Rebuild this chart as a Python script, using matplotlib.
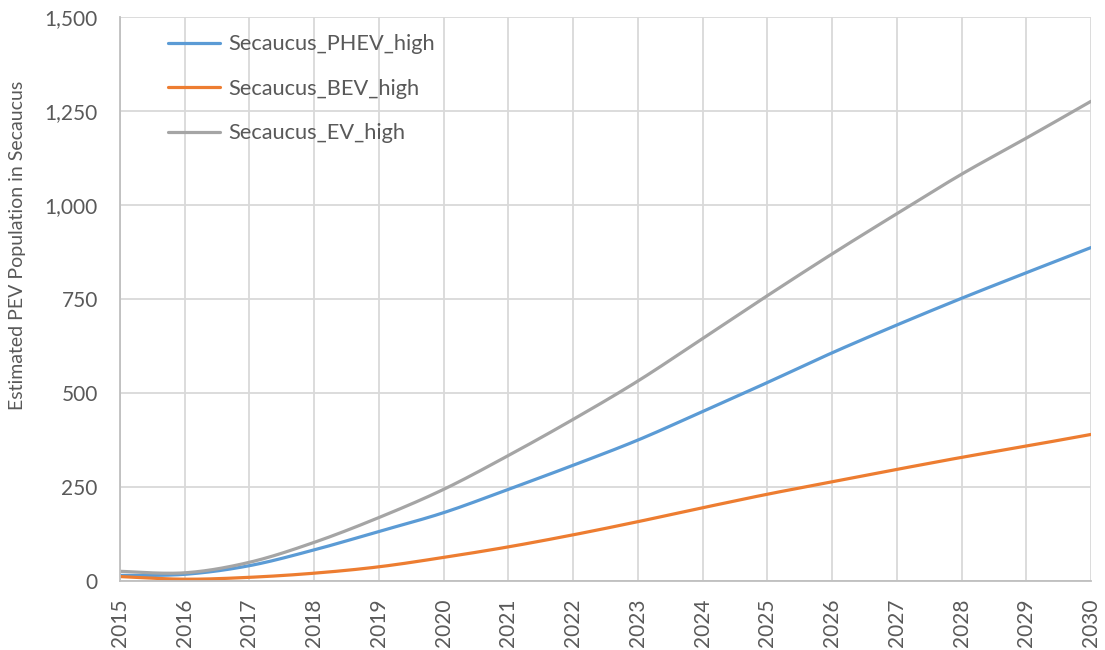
import numpy as np
import matplotlib
matplotlib.use("Agg")
import matplotlib.pyplot as plt

plt.rcParams["font.family"] = ["Lato", "DejaVu Sans"]

years = list(range(2015, 2031))
phev_high = [14, 17, 40, 82, 131, 181, 243, 307, 374, 450, 527, 606, 680, 751, 819, 886]
bev_high = [11, 4, 9, 20, 37, 62, 90, 122, 157, 194, 230, 263, 296, 328, 358, 389]
ev_high = [25, 21, 49, 102, 168, 243, 333, 429, 531, 644, 758, 869, 976, 1081, 1177, 1275]

series = [
    ("Secaucus_PHEV_high", phev_high, "#5B9BD5"),
    ("Secaucus_BEV_high", bev_high, "#ED7D31"),
    ("Secaucus_EV_high", ev_high, "#A5A5A5"),
]


def smooth(x, y, n=30):
    # Excel-style smoothed line (Catmull-Rom through the points)
    x = np.asarray(x, float)
    y = np.asarray(y, float)
    px = np.concatenate([[x[0]], x, [x[-1]]])
    py = np.concatenate([[y[0]], y, [y[-1]]])
    xs, ys = [], []
    t = np.linspace(0, 1, n, endpoint=False)
    for i in range(1, len(px) - 2):
        p0, p1, p2, p3 = (np.array([px[j], py[j]]) for j in range(i - 1, i + 3))
        c1 = p1 + (p2 - p0) / 6
        c2 = p2 - (p3 - p1) / 6
        b = ((1 - t) ** 3)[:, None] * p1 + (3 * (1 - t) ** 2 * t)[:, None] * c1 \
            + (3 * (1 - t) * t ** 2)[:, None] * c2 + (t ** 3)[:, None] * p2
        xs.extend(b[:, 0])
        ys.extend(b[:, 1])
    xs.append(x[-1])
    ys.append(y[-1])
    return xs, ys


fig = plt.figure(figsize=(11.05, 6.5), dpi=100)
ax = fig.add_axes([0.1086, 0.1066, 0.8787, 0.8677])

for name, vals, col in series:
    sx, sy = smooth(years, vals)
    ax.plot(sx, sy, color=col, lw=2.3, label=name, solid_capstyle="round")

ax.set_xlim(2015, 2030)
ax.set_ylim(0, 1500)
ax.set_xticks(years)
ax.set_xticklabels([str(y) for y in years], rotation=90)
ax.set_yticks(range(0, 1501, 250))
ax.set_yticklabels([f"{v:,}" for v in range(0, 1501, 250)])
ax.tick_params(axis="both", length=0, labelsize=15, colors="#595959")
ax.tick_params(axis="x", pad=13)
ax.tick_params(axis="y", pad=16)
ax.grid(True, color="#D9D9D9", lw=1.3)
ax.set_axisbelow(True)
for s in ["top", "right"]:
    ax.spines[s].set_visible(False)
for s in ["left", "bottom"]:
    ax.spines[s].set_color("#BFBFBF")
    ax.spines[s].set_linewidth(1.3)

ax.set_ylabel("Estimated PEV Population in Secaucus", fontsize=14, color="#595959")
ax.yaxis.set_label_coords(-0.097, 0.595)

ax.legend(loc="upper left", bbox_to_anchor=(0.049, 0.969), frameon=False, fontsize=15.7,
          labelcolor="#595959", handlelength=2.4, handletextpad=0.4, labelspacing=1.13,
          borderpad=0, borderaxespad=0)

plt.savefig("out.png", dpi=100)
